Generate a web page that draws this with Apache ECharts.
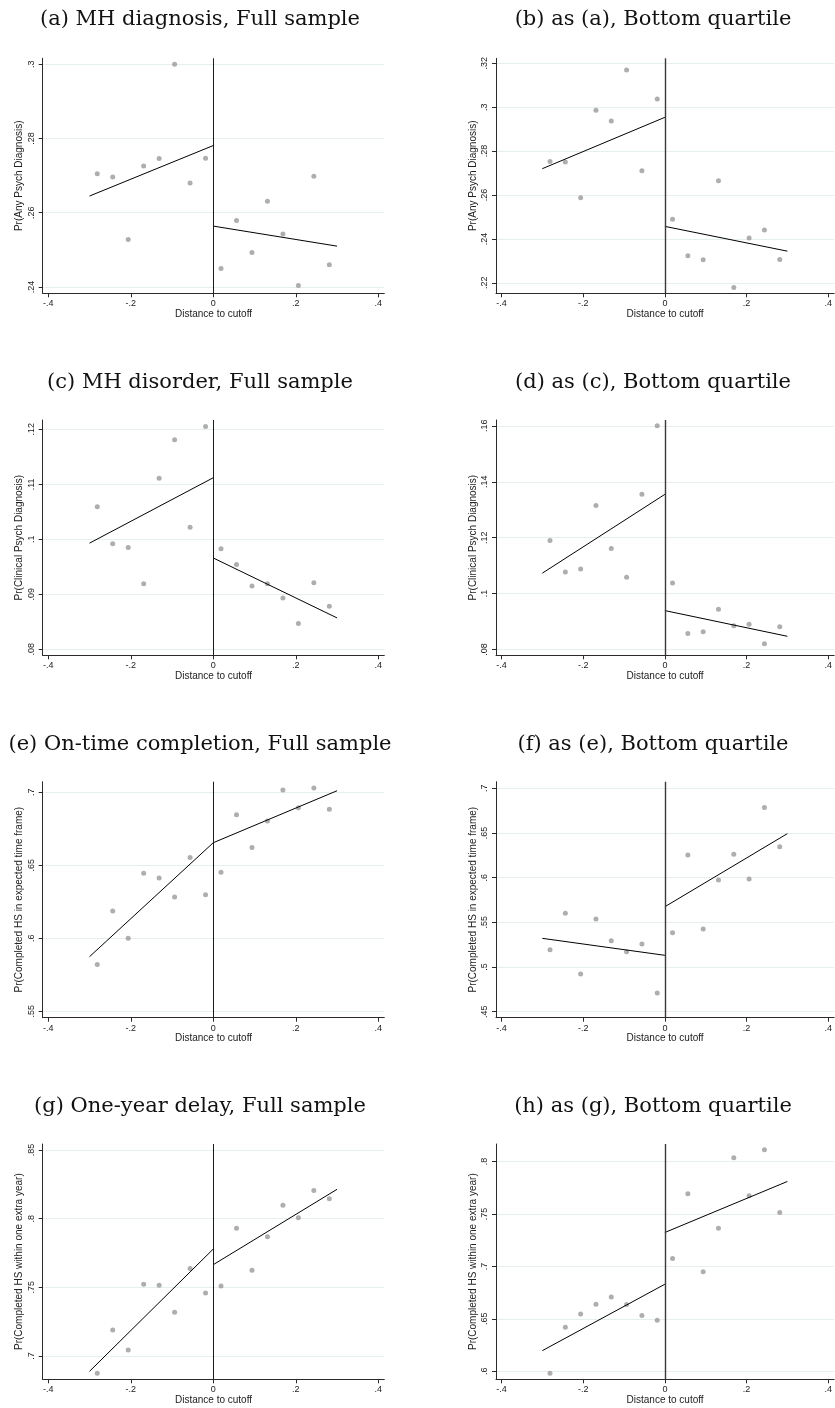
<!DOCTYPE html>
<html>
<head>
<meta charset="utf-8">
<script src="https://cdn.jsdelivr.net/npm/echarts@6/dist/echarts.min.js"></script>
<style>
  html, body { margin: 0; padding: 0; background: #ffffff; }
  #chart { width: 835px; height: 1408px; }
</style>
</head>
<body>
<div id="chart"></div>
<script>
// Bin centres of the running variable (distance to cutoff), 8 bins each side
const binX = [-0.28125, -0.24375, -0.20625, -0.16875, -0.13125, -0.09375, -0.05625, -0.01875,
              0.01875, 0.05625, 0.09375, 0.13125, 0.16875, 0.20625, 0.24375, 0.28125];
// Fitted line endpoints: left side from -0.3 to 0, right side from 0 to 0.3
const fitX = [-0.3, 0, 0, 0.3];
const xTicks = [-0.4, -0.2, 0, 0.2, 0.4];
const xRange = [-0.4135, 0.4145];

const panelTitles = [
  '(a) MH diagnosis, Full sample',
  '(b) as (a), Bottom quartile',
  '(c) MH disorder, Full sample',
  '(d) as (c), Bottom quartile',
  '(e) On-time completion, Full sample',
  '(f) as (e), Bottom quartile',
  '(g) One-year delay, Full sample',
  '(h) as (g), Bottom quartile'
];
const yTitles = [
  'Pr(Any Psych Diagnosis)',
  'Pr(Any Psych Diagnosis)',
  'Pr(Clinical Psych Diagnosis)',
  'Pr(Clinical Psych Diagnosis)',
  'Pr(Completed HS in expected time frame)',
  'Pr(Completed HS in expected time frame)',
  'Pr(Completed HS within one extra year)',
  'Pr(Completed HS within one extra year)'
];
const xTitle = 'Distance to cutoff';

// Binned means
const meansA = [0.2705, 0.2696, 0.2528, 0.2726, 0.2746, 0.3000, 0.2680, 0.2747,
                0.2450, 0.2579, 0.2493, 0.2631, 0.2543, 0.2404, 0.2698, 0.2460];
const meansB = [0.2753, 0.2750, 0.2588, 0.2986, 0.2937, 0.3170, 0.2711, 0.3037,
                0.2490, 0.2323, 0.2305, 0.2665, 0.2179, 0.2404, 0.2440, 0.2306];
const meansC = [0.1059, 0.0992, 0.0985, 0.0919, 0.1111, 0.1181, 0.1022, 0.1205,
                0.0983, 0.0954, 0.0915, 0.0919, 0.0893, 0.0847, 0.0921, 0.0878];
const meansD = [0.1190, 0.1077, 0.1088, 0.1315, 0.1161, 0.1058, 0.1355, 0.1600,
                0.1038, 0.0857, 0.0863, 0.0944, 0.0885, 0.0890, 0.0820, 0.0881];
const meansE = [0.5820, 0.6187, 0.6000, 0.6445, 0.6413, 0.6283, 0.6553, 0.6299,
                0.6452, 0.6847, 0.6623, 0.6804, 0.7016, 0.6895, 0.7030, 0.6884];
const meansF = [0.5194, 0.5601, 0.4922, 0.5537, 0.5295, 0.5172, 0.5257, 0.4709,
                0.5384, 0.6254, 0.5425, 0.5974, 0.6261, 0.5985, 0.6784, 0.6347];
const meansG = [0.6874, 0.7189, 0.7044, 0.7522, 0.7515, 0.7318, 0.7638, 0.7459,
                0.7510, 0.7930, 0.7624, 0.7869, 0.8097, 0.8007, 0.8206, 0.8146];
const meansH = [0.5981, 0.6420, 0.6547, 0.6639, 0.6709, 0.6636, 0.6531, 0.6486,
                0.7075, 0.7692, 0.6948, 0.7364, 0.8035, 0.7672, 0.8111, 0.7514];

// Linear fits at x = -0.3, 0 (left) and 0, 0.3 (right)
const fitA = [0.2645, 0.2781, 0.2564, 0.2510];
const fitB = [0.2720, 0.2954, 0.2457, 0.2344];
const fitC = [0.0993, 0.1112, 0.0966, 0.0857];
const fitD = [0.1073, 0.1355, 0.0939, 0.0847];
const fitE = [0.5874, 0.6655, 0.6655, 0.7011];
const fitF = [0.5321, 0.5131, 0.5675, 0.6493];
const fitG = [0.6888, 0.7779, 0.7665, 0.8214];
const fitH = [0.6197, 0.6830, 0.7323, 0.7809];

// Y tick values
const yTicksA = [0.24, 0.26, 0.28, 0.3];
const yTicksB = [0.22, 0.24, 0.26, 0.28, 0.3, 0.32];
const yTicksC = [0.08, 0.09, 0.1, 0.11, 0.12];
const yTicksD = [0.08, 0.1, 0.12, 0.14, 0.16];
const yTicksE = [0.55, 0.6, 0.65, 0.7];
const yTicksF = [0.45, 0.5, 0.55, 0.6, 0.65, 0.7];
const yTicksG = [0.7, 0.75, 0.8, 0.85];
const yTicksH = [0.6, 0.65, 0.7, 0.75, 0.8];

// Y axis extents
const yRangeA = [0.2383, 0.3016];
const yRangeB = [0.2152, 0.3223];
const yRangeC = [0.0789, 0.1217];
const yRangeD = [0.0779, 0.1621];
const yRangeE = [0.5456, 0.7073];
const yRangeF = [0.4433, 0.7074];
const yRangeG = [0.6830, 0.8544];
const yRangeH = [0.5924, 0.8166];

const allMeans = [meansA, meansB, meansC, meansD, meansE, meansF, meansG, meansH];
const allFits = [fitA, fitB, fitC, fitD, fitE, fitF, fitG, fitH];
const allYTicks = [yTicksA, yTicksB, yTicksC, yTicksD, yTicksE, yTicksF, yTicksG, yTicksH];
const allYRanges = [yRangeA, yRangeB, yRangeC, yRangeD, yRangeE, yRangeF, yRangeG, yRangeH];

// Panel placement (px)
const colLeft = [42.7, 496];
const colCenter = [200, 653];
const plotWidth = 341.6;
const rowTop = [58.3, 420, 781.7, 1144];
const rowHeight = [235, 235.3, 236, 235.3];
const titleTop = [9, 372.3, 734, 1096];

// Stata-style number format: drop the leading zero
function stataFmt(v) {
  const r = Math.round(v * 10000) / 10000;
  if (r === 0) return '0';
  return String(r).replace(/^(-?)0\./, '$1.');
}

const sansFont = 'Liberation Sans, Arial, sans-serif';
const axisColor = '#2a2a2a';
const gridColor = '#e6eeef';
// Right-hand column draws its cutoff line a little heavier
const cutoffWidth = [1, 1.4];
const cutoffColor = ['#1a1a1a', '#3a3a3a'];

const option = {
  animation: false,
  backgroundColor: '#ffffff',
  title: [], grid: [], xAxis: [], yAxis: [], series: []
};

for (let i = 0; i < 8; i++) {
  const col = i % 2, row = Math.floor(i / 2);
  option.title.push({
    text: panelTitles[i],
    left: colCenter[col],
    top: titleTop[row],
    textAlign: 'center',
    padding: 0,
    textStyle: { fontFamily: 'DejaVu Serif, serif', fontWeight: 'normal', fontSize: 21, color: '#111' }
  });
  option.grid.push({
    left: colLeft[col], top: rowTop[row], width: plotWidth, height: rowHeight[row],
    containLabel: false
  });
  option.xAxis.push({
    type: 'value', gridIndex: i,
    min: xRange[0], max: xRange[1],
    name: xTitle, nameLocation: 'middle', nameGap: 14,
    nameTextStyle: { fontFamily: sansFont, fontSize: 10, color: '#222' },
    axisLine: { onZero: false, lineStyle: { color: axisColor, width: 1 } },
    axisTick: { show: true, length: 4, customValues: xTicks, lineStyle: { color: axisColor } },
    axisLabel: { customValues: xTicks, margin: 6, fontFamily: sansFont, fontSize: 9, color: '#222',
                 formatter: stataFmt },
    splitLine: { show: false }
  });
  option.yAxis.push({
    type: 'value', gridIndex: i,
    min: allYRanges[i][0], max: allYRanges[i][1],
    name: yTitles[i], nameLocation: 'middle', nameGap: 18, nameRotate: 90,
    nameTextStyle: { fontFamily: sansFont, fontSize: 10, color: '#222' },
    axisLine: { show: true, onZero: false, lineStyle: { color: axisColor, width: 1 } },
    axisTick: { show: true, length: 4, customValues: allYTicks[i], lineStyle: { color: axisColor } },
    axisLabel: { customValues: allYTicks[i], rotate: 90, margin: 7, fontFamily: sansFont, fontSize: 9,
                 color: '#222', formatter: stataFmt },
    splitLine: { show: true, lineStyle: { color: gridColor, width: 1 } }
  });

  const pts = binX.map((x, k) => [x, allMeans[i][k]]);
  const f = allFits[i];
  option.series.push({
    type: 'scatter', xAxisIndex: i, yAxisIndex: i,
    data: pts, symbol: 'circle', symbolSize: 5,
    itemStyle: { color: '#9a9a9a' },
    markLine: {
      silent: true, symbol: ['none', 'none'], label: { show: false },
      lineStyle: { color: cutoffColor[col], width: cutoffWidth[col], type: 'solid' },
      data: [{ xAxis: 0 }]
    },
    z: 3
  });
  option.series.push({
    type: 'line', xAxisIndex: i, yAxisIndex: i, showSymbol: false, symbol: 'none',
    data: [[fitX[0], f[0]], [fitX[1], f[1]]],
    lineStyle: { color: '#000', width: 1 }, z: 4
  });
  option.series.push({
    type: 'line', xAxisIndex: i, yAxisIndex: i, showSymbol: false, symbol: 'none',
    data: [[fitX[2], f[2]], [fitX[3], f[3]]],
    lineStyle: { color: '#000', width: 1 }, z: 4
  });
}

const chart = echarts.init(document.getElementById('chart'), null, { renderer: 'canvas' });
chart.setOption(option);
</script>
</body>
</html>
